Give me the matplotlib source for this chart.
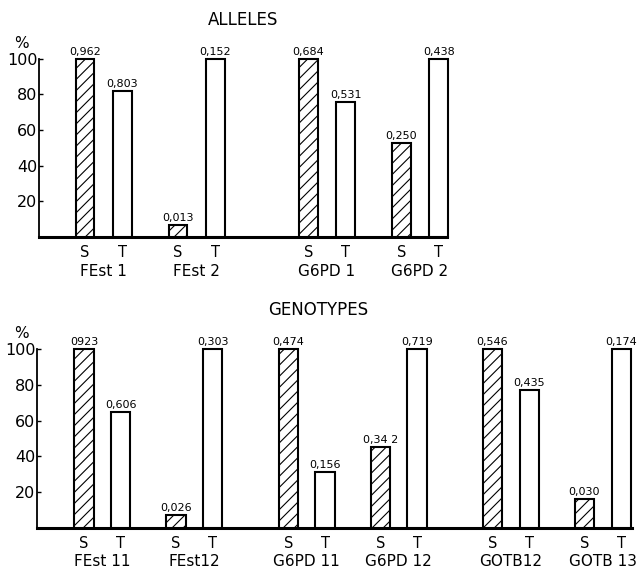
import numpy as np
import matplotlib
matplotlib.use("Agg")
import matplotlib.pyplot as plt

plt.rcParams['hatch.linewidth'] = 0.8
plt.rcParams['font.family'] = 'DejaVu Sans'

# ALLELES panel
allele_names = ["FEst 1", "FEst 2", "G6PD 1", "G6PD 2"]
allele_locus = [0, 0, 1, 1]
allele_s = [100, 7, 100, 53]
allele_t = [82, 100, 76, 100]
allele_s_lab = ["0,962", "0,013", "0,684", "0,250"]
allele_t_lab = ["0,803", "0,152", "0,531", "0,438"]

# GENOTYPES panel
geno_names = ["FEst 11", "FEst12", "G6PD 11", "G6PD 12", "GOTB12", "GOTB 13"]
geno_locus = [0, 0, 1, 1, 2, 2]
geno_s = [100, 7, 100, 45, 100, 16]
geno_t = [65, 100, 31, 100, 77, 100]
geno_s_lab = ["0923", "0,026", "0,474", "0,34 2", "0,546", "0,030"]
geno_t_lab = ["0,606", "0,303", "0,156", "0,719", "0,435", "0,174"]

yticks = [20, 40, 60, 80, 100]

W, H = 644, 571
fig = plt.figure(figsize=(W / 100, H / 100), dpi=100)


def panel(rect, names, locus, s_vals, t_vals, s_lab, t_lab, gap, width, xlim):
    ax = fig.add_axes(rect)
    pos = np.arange(len(names)) + gap * np.array(locus)
    s_x = pos
    t_x = pos + 0.4
    ax.bar(s_x, s_vals, width=width, color='white', edgecolor='black',
           linewidth=1.5, hatch='///', zorder=3, clip_on=False)
    ax.bar(t_x, t_vals, width=width, color='white', edgecolor='black',
           linewidth=1.5, zorder=3, clip_on=False)
    for x, v, lab in zip(s_x, s_vals, s_lab):
        ax.annotate(lab, (x, v), xytext=(0, 2), textcoords='offset pixels',
                    ha='center', va='bottom', fontsize=8)
    for x, v, lab in zip(t_x, t_vals, t_lab):
        ax.annotate(lab, (x, v), xytext=(0, 2), textcoords='offset pixels',
                    ha='center', va='bottom', fontsize=8)
    for x1, x2, name in zip(s_x, t_x, names):
        ax.annotate("S", (x1, 0), xytext=(0, -15), textcoords='offset pixels',
                    ha='center', va='center', fontsize=10.5)
        ax.annotate("T", (x2, 0), xytext=(0, -15), textcoords='offset pixels',
                    ha='center', va='center', fontsize=10.5)
        ax.annotate(name, ((x1 + x2) / 2, 0), xytext=(0, -34),
                    textcoords='offset pixels', ha='center', va='center',
                    fontsize=11)
    ax.set_xlim(*xlim)
    ax.set_ylim(0, 110)
    ax.set_xticks([])
    ax.set_yticks(yticks)
    ax.tick_params(axis='y', direction='in', length=3, width=1, pad=1,
                   labelsize=11.5)
    for side in ['top', 'right']:
        ax.spines[side].set_visible(False)
    ax.spines['left'].set_bounds(0, 100)
    ax.spines['left'].set_linewidth(1.3)
    ax.spines['bottom'].set_linewidth(2.2)
    ax.patch.set_visible(False)
    return ax


panel([39 / W, 1 - 237 / H, 408 / W, 196 / H], allele_names, allele_locus,
      allele_s, allele_t, allele_s_lab, allele_t_lab,
      gap=0.4, width=0.2, xlim=(-0.495, 3.89))
panel([37 / W, 1 - 528 / H, 595 / W, 197 / H], geno_names, geno_locus,
      geno_s, geno_t, geno_s_lab, geno_t_lab,
      gap=0.22, width=0.21, xlim=(-0.511, 5.957))

fig.text(243 / W, 1 - 20 / H, "ALLELES", ha='center', va='center', fontsize=12)
fig.text(318 / W, 1 - 310 / H, "GENOTYPES", ha='center', va='center', fontsize=12)
fig.text(21 / W, 1 - 43 / H, "%", ha='center', va='center', fontsize=11)
fig.text(21 / W, 1 - 333 / H, "%", ha='center', va='center', fontsize=11)

fig.savefig("out.png", dpi=100)
